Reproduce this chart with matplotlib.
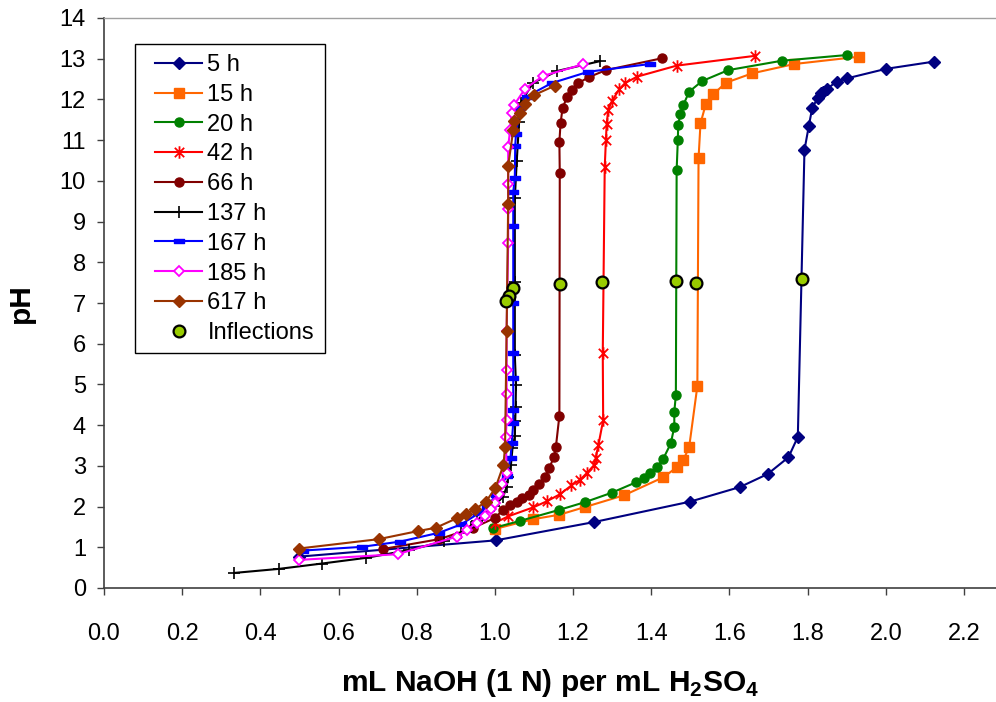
import matplotlib
matplotlib.use("Agg")
import matplotlib.pyplot as plt
from matplotlib.path import Path
from matplotlib.patches import Rectangle

plt.rcParams['font.family'] = ['Liberation Sans', 'DejaVu Sans']
plt.rcParams['mathtext.fontset'] = 'custom'
plt.rcParams['mathtext.rm'] = 'Liberation Sans'
plt.rcParams['mathtext.bf'] = 'Liberation Sans:bold'

# Titration curves: mL NaOH (1 N) per mL H2SO4 vs pH, by digestion time
x_5h = [0.499, 1.002, 1.254, 1.499, 1.627, 1.698, 1.751, 1.775, 1.792, 1.803, 1.812,
        1.826, 1.834, 1.840, 1.849, 1.874, 1.902, 2.000, 2.124]
y_5h = [0.77, 1.17, 1.62, 2.12, 2.48, 2.80, 3.21, 3.71, 10.76, 11.34, 11.80,
        12.03, 12.15, 12.19, 12.25, 12.44, 12.52, 12.75, 12.93]

x_15h = [1.000, 1.098, 1.165, 1.231, 1.331, 1.431, 1.465, 1.482, 1.497, 1.518, 1.521,
         1.526, 1.540, 1.559, 1.591, 1.658, 1.766, 1.932]
y_15h = [1.45, 1.69, 1.80, 1.99, 2.28, 2.72, 2.96, 3.14, 3.46, 4.96, 10.55,
         11.41, 11.90, 12.13, 12.41, 12.64, 12.87, 13.05]

x_20h = [0.995, 1.065, 1.165, 1.231, 1.299, 1.362, 1.382, 1.398, 1.415, 1.431, 1.450,
         1.459, 1.459, 1.463, 1.465, 1.468, 1.469, 1.474, 1.482, 1.497, 1.530, 1.597,
         1.734, 1.900]
y_20h = [1.47, 1.65, 1.92, 2.11, 2.34, 2.60, 2.69, 2.82, 2.97, 3.18, 3.55,
         3.96, 4.33, 4.74, 10.27, 11.00, 11.36, 11.64, 11.86, 12.19, 12.45, 12.72,
         12.95, 13.09]

x_42h = [1.000, 1.034, 1.098, 1.133, 1.166, 1.196, 1.218, 1.235, 1.254, 1.258, 1.265,
         1.277, 1.276, 1.281, 1.284, 1.286, 1.290, 1.299, 1.318, 1.333, 1.364, 1.465,
         1.665]
y_42h = [1.60, 1.76, 1.98, 2.13, 2.30, 2.52, 2.66, 2.82, 3.02, 3.20, 3.52,
         4.12, 5.77, 10.33, 11.00, 11.40, 11.74, 11.95, 12.25, 12.40, 12.56, 12.83,
         13.07]

x_66h = [0.715, 0.858, 0.943, 1.000, 1.021, 1.039, 1.056, 1.069, 1.086, 1.098, 1.114,
         1.128, 1.139, 1.151, 1.156, 1.165, 1.166, 1.165, 1.168, 1.173, 1.184, 1.198,
         1.213, 1.241, 1.284, 1.427]
y_66h = [0.96, 1.20, 1.47, 1.72, 1.92, 2.04, 2.12, 2.20, 2.28, 2.41, 2.55,
         2.73, 2.94, 3.22, 3.46, 4.23, 10.19, 10.96, 11.41, 11.78, 12.05, 12.23,
         12.40, 12.55, 12.72, 13.01]

x_137h = [0.333, 0.448, 0.557, 0.670, 0.780, 0.870, 0.913, 0.938, 0.953, 0.970, 0.998,
          1.021, 1.030, 1.034, 1.041, 1.045, 1.051, 1.052, 1.053, 1.054, 1.051, 1.051,
          1.051, 1.056, 1.062, 1.066, 1.098, 1.160, 1.269]
y_137h = [0.37, 0.47, 0.60, 0.74, 0.93, 1.15, 1.36, 1.50, 1.65, 1.79, 2.02,
          2.24, 2.48, 2.73, 3.02, 3.43, 3.73, 4.09, 4.45, 4.99, 5.72, 7.52,
          9.57, 10.50, 11.45, 11.92, 12.41, 12.70, 12.94]

x_167h = [0.510, 0.659, 0.758, 0.858, 0.913, 0.958, 0.981, 1.003, 1.030, 1.040, 1.043,
          1.047, 1.047, 1.047, 1.047, 1.047, 1.047, 1.047, 1.051, 1.052, 1.054, 1.064,
          1.081, 1.145, 1.239, 1.397]
y_167h = [0.92, 1.01, 1.14, 1.36, 1.56, 1.83, 2.01, 2.28, 2.75, 3.19, 3.55,
          4.06, 4.37, 5.15, 5.76, 7.01, 8.88, 9.73, 10.06, 10.86, 11.15, 11.78,
          12.07, 12.40, 12.68, 12.87]

x_185h = [0.499, 0.751, 0.902, 0.928, 0.953, 0.975, 0.990, 1.000, 1.011, 1.017, 1.030,
          1.028, 1.030, 1.030, 1.030, 1.030, 1.034, 1.034, 1.034, 1.034, 1.039, 1.043,
          1.049, 1.077, 1.124, 1.225]
y_185h = [0.69, 0.83, 1.26, 1.42, 1.60, 1.78, 1.95, 2.10, 2.30, 2.55, 2.82,
          3.72, 4.13, 4.77, 5.36, 6.31, 8.48, 9.30, 9.93, 10.84, 11.25, 11.66,
          11.86, 12.26, 12.58, 12.86]

x_617h = [0.499, 0.703, 0.804, 0.849, 0.902, 0.926, 0.950, 0.977, 1.001, 1.022, 1.026,
          1.030, 1.034, 1.034, 1.047, 1.050, 1.064, 1.077, 1.101, 1.154]
y_617h = [0.97, 1.20, 1.40, 1.48, 1.71, 1.81, 1.94, 2.12, 2.45, 3.02, 3.47,
          6.32, 9.43, 10.37, 11.25, 11.46, 11.66, 11.89, 12.11, 12.34]

x_infl = [1.786, 1.514, 1.463, 1.274, 1.166, 1.047, 1.037, 1.028]
y_infl = [7.59, 7.49, 7.54, 7.52, 7.47, 7.36, 7.16, 7.06]

x_ticks = [0.0, 0.2, 0.4, 0.6, 0.8, 1.0, 1.2, 1.4, 1.6, 1.8, 2.0, 2.2]
y_ticks = list(range(0, 15))

# custom markers: asterisk (x with vertical bar) and short horizontal bar
star = Path([(0, -1), (0, 1), (-0.75, -0.75), (0.75, 0.75), (-0.75, 0.75), (0.75, -0.75)],
            [Path.MOVETO, Path.LINETO, Path.MOVETO, Path.LINETO, Path.MOVETO, Path.LINETO])
bar = Path([(-1, -0.4), (1, -0.4), (1, 0.4), (-1, 0.4), (-1, -0.4)],
           [Path.MOVETO, Path.LINETO, Path.LINETO, Path.LINETO, Path.CLOSEPOLY])

series = [
    ("5 h", x_5h, y_5h, dict(color="#000080", marker="D", ms=6.5)),
    ("15 h", x_15h, y_15h, dict(color="#FF6600", marker="s", ms=6.5)),
    ("20 h", x_20h, y_20h, dict(color="#008000", marker="o", ms=6.5)),
    ("42 h", x_42h, y_42h, dict(color="#FF0000", marker=star, ms=9, mew=1.3)),
    ("66 h", x_66h, y_66h, dict(color="#800000", marker="o", ms=6.5)),
    ("137 h", x_137h, y_137h, dict(color="#000000", marker="+", ms=9, mew=1.2)),
    ("167 h", x_167h, y_167h, dict(color="#0000FF", marker=bar, ms=7)),
    ("185 h", x_185h, y_185h, dict(color="#FF00FF", marker="D", ms=5.5,
                                   mfc="white", mew=1.3)),
    ("617 h", x_617h, y_617h, dict(color="#993300", marker="D", ms=6.5)),
]

fig = plt.figure(figsize=(9.96, 7.02), dpi=100)
ax = fig.add_axes([104 / 996, 114 / 702, 892 / 996, 570 / 702])

for label, xs, ys, style in series:
    ax.plot(xs, ys, label=label, lw=1.5, **style)

ax.plot(x_infl, y_infl, ls="none", marker="o", ms=8.5, mfc="#99CC00",
        mec="black", mew=1.6, label="Inflections", zorder=5)

ax.set_xlim(0, 2.282)
ax.set_ylim(0, 14)
ax.set_xticks(x_ticks)
ax.set_xticklabels([f"{v:.1f}" for v in x_ticks])
ax.set_yticks(y_ticks)

for side in ("left", "bottom"):
    ax.spines[side].set_color("#404040")
    ax.spines[side].set_linewidth(1.2)
ax.spines["top"].set_color("#A0A0A0")
ax.spines["top"].set_linewidth(1.0)
ax.spines["right"].set_visible(False)

ax.tick_params(axis="both", direction="out", length=5, width=1.0, color="#404040",
               labelsize=17)
ax.tick_params(axis="x", pad=20)
ax.tick_params(axis="y", pad=8)

ax.set_xlabel(r"mL NaOH (1 N) per mL H$_{\mathbf{2}}$SO$_{\mathbf{4}}$",
              fontsize=21.5, fontweight="bold", labelpad=16)
ax.set_ylabel("pH", fontsize=21.5, fontweight="bold", labelpad=18)

# legend box drawn as its own frame; entries placed inside without a frame
frame = Rectangle((31 / 892, 235 / 570), 190 / 892, 309 / 570, transform=ax.transAxes,
                  facecolor="white", edgecolor="black", lw=1.0, zorder=6)
ax.add_patch(frame)
leg = ax.legend(loc="upper left", bbox_to_anchor=(51 / 892, 534 / 570),
                borderaxespad=0, fontsize=17, frameon=False, handlelength=2.0,
                handletextpad=0.22, labelspacing=0.33, borderpad=0)
leg.set_zorder(7)

fig.savefig("out.png", dpi=100)
